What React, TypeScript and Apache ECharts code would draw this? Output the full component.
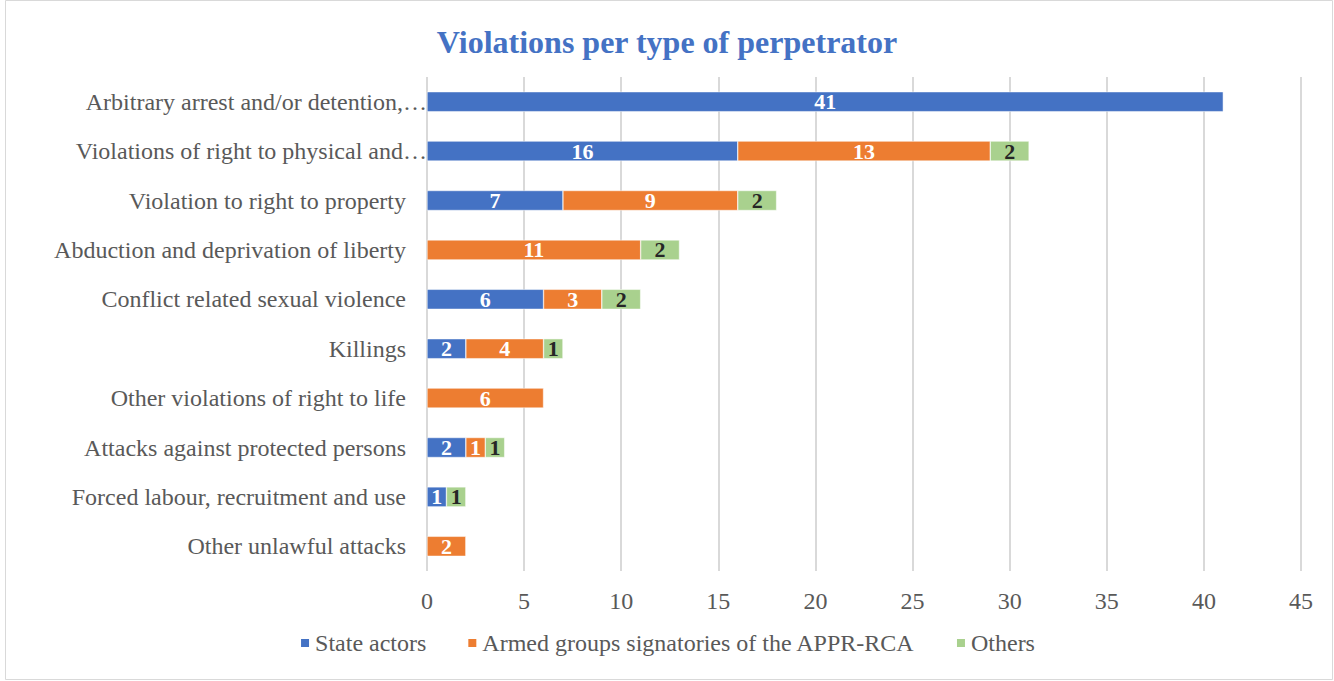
import React, { useEffect, useRef } from "react";
import * as echarts from "echarts";

const categories = [
  "Arbitrary arrest and/or detention,…",
  "Violations of right to physical and…",
  "Violation to right to property",
  "Abduction and deprivation of liberty",
  "Conflict related sexual violence",
  "Killings",
  "Other violations of right to life",
  "Attacks against protected persons",
  "Forced labour, recruitment and use",
  "Other unlawful attacks",
];
const stateActors = [41, 16, 7, null, 6, 2, null, 2, 1, null];
const armedGroups = [null, 13, 9, 11, 3, 4, 6, 1, null, 2];
const others = [null, 2, 2, 2, 2, 1, null, 1, 1, null];
const seriesNames = ["State actors", "Armed groups signatories of the APPR-RCA", "Others"];
const colors = ["#4472C4", "#ED7D31", "#A9D18E"];
const labelColors = ["#FFFFFF", "#FFFFFF", "#262626"];

const FONT = "Liberation Serif";
const txt = { fontFamily: FONT, fontSize: 24, color: "#595959" };

export default function App() {
  const ref = useRef<HTMLDivElement>(null);
  useEffect(() => {
    document.body.style.margin = "0";
    const chart = echarts.init(ref.current!, undefined, { renderer: "svg" });
    const data = [stateActors, armedGroups, others];
    chart.setOption({
      animation: false,
      textStyle: { fontFamily: FONT },
      title: {
        text: "Violations per type of perpetrator",
        left: "center",
        top: 21,
        textStyle: { fontFamily: FONT, fontSize: 32, fontWeight: "bold", color: "#4472C4" },
      },
      graphic: [
        {
          type: "rect",
          shape: { x: 5.5, y: 0.5, width: 1327, height: 679 },
          style: { fill: "none", stroke: "#D9D9D9", lineWidth: 1 },
          silent: true,
        },
      ],
      legend: {
        bottom: 21,
        left: "center",
        itemWidth: 10,
        itemHeight: 10,
        itemGap: 40,
        icon: "rect",
        formatter: (n: string) => `{t|${n}}`,
        textStyle: { ...txt, rich: { t: { ...txt } } },
        data: seriesNames,
      },
      grid: { left: 427, right: 33, top: 77, bottom: 110, containLabel: false },
      xAxis: {
        type: "value",
        min: 0,
        max: 45,
        interval: 5,
        axisLine: { show: false },
        axisTick: { show: false },
        axisLabel: {
          ...txt,
          margin: 18,
          formatter: (v: number) => `{t|${v}}`,
          rich: { t: { ...txt } },
        },
        splitLine: { lineStyle: { color: "#D9D9D9", width: 2 } },
      },
      yAxis: {
        type: "category",
        inverse: true,
        data: categories,
        axisLine: { show: false },
        axisTick: { show: false },
        axisLabel: {
          margin: 0,
          formatter: (v: string) => (v.endsWith("…") ? `{e|${v}}` : `{n|${v}}`),
          rich: {
            n: { ...txt, padding: [0, 21, 0, 0] },
            e: { ...txt, padding: [0, 0, 0, 0] },
          },
        },
      },
      series: seriesNames.map((name, i) => ({
        name,
        type: "bar",
        stack: "total",
        barWidth: 20,
        data: data[i],
        itemStyle: { color: colors[i], borderColor: "#FFFFFF", borderWidth: 0.5 },
        label: {
          show: true,
          position: "inside",
          color: labelColors[i],
          fontFamily: FONT,
          fontSize: 22,
          fontWeight: "bold",
          formatter: (p: any) => (p.value == null ? "" : String(p.value)),
        },
      })),
    });
    return () => chart.dispose();
  }, []);
  return <div ref={ref} style={{ width: 1334, height: 681 }} />;
}
